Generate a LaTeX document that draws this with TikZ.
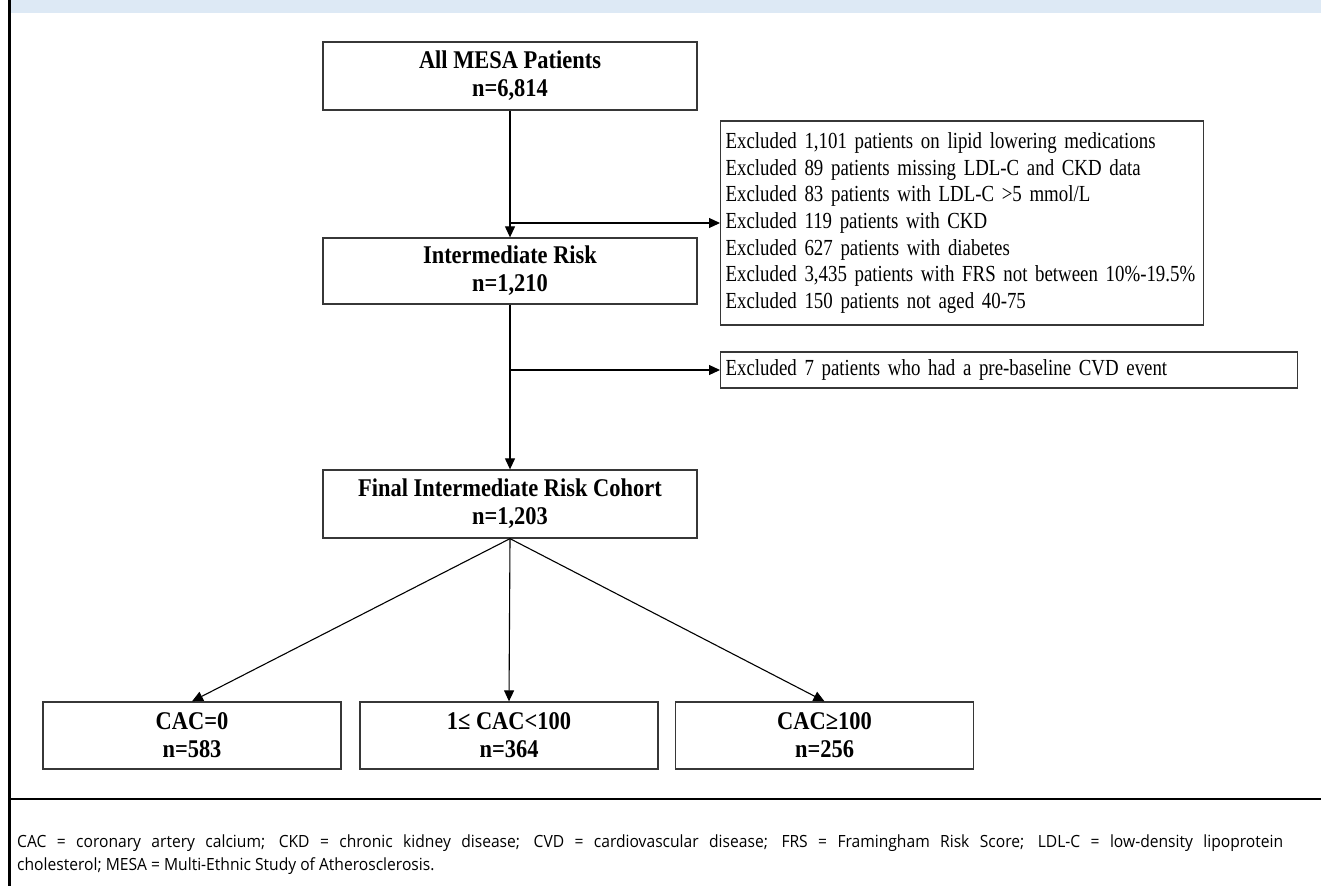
\documentclass[tikz,border=0pt]{standalone}
\usepackage{fontspec}
\setmainfont{Liberation Serif}[FakeStretch=0.88]
\newfontfamily\exfont{Liberation Serif}[FakeStretch=0.82]
\newfontfamily\capfont{Open Sans}[FakeStretch=0.93]
\usetikzlibrary{arrows.meta}
\definecolor{band}{RGB}{221,233,245}
\definecolor{boxline}{RGB}{55,55,55}
\begin{document}
\begin{tikzpicture}[x=1pt,y=-1pt,
  box/.style={draw=boxline, line width=1.3pt, fill=white, inner sep=0pt, align=center,
    font=\fontsize{25.5}{28}\selectfont\bfseries},
  exbox/.style={draw=boxline, line width=1.3pt, fill=white, inner xsep=5pt, inner ysep=0pt,
    align=left, anchor=west, font=\exfont\fontsize{23}{26.7}\selectfont},
  conn/.style={line width=1.1pt, -{Triangle[length=11pt,width=10pt]}},
  rule/.style={line width=2.5pt}]
\useasboundingbox (0,0) rectangle (1321,886);
\fill[band] (10,0) rectangle (1321,13);
\draw[rule] (9.5,0) -- (9.5,886);
\draw[rule] (9.5,799) -- (1321,799);

\node[box, minimum width=374pt, minimum height=68pt] (mesa) at (510,76) {All MESA Patients\\n=6,814};
\node[exbox, minimum height=204pt, text width=473pt] (ex1) at (720,223) {Excluded 1,101 patients on lipid lowering medications\\
Excluded 89 patients missing LDL-C and CKD data\\
Excluded 83 patients with LDL-C >5 mmol/L\\
Excluded 119 patients with CKD\\
Excluded 627 patients with diabetes\\
Excluded 3,435 patients with FRS not between 10\%-19.5\%\\
Excluded 150 patients not aged 40-75};
\node[box, minimum width=374pt, minimum height=66pt] (inter) at (510,271) {Intermediate Risk\\n=1,210};
\node[exbox, minimum height=36pt, text width=567pt] (ex2) at (720,370) {Excluded 7 patients who had a pre-baseline CVD event};
\node[box, minimum width=374pt, minimum height=68pt] (final) at (510,504) {Final Intermediate Risk Cohort\\n=1,203};
\node[box, minimum width=298pt, minimum height=67pt] (c0) at (192,735.5) {CAC=0\\n=583};
\node[box, minimum width=298pt, minimum height=67pt] (c1) at (509,735.5) {1≤ CAC<100\\n=364};
\node[box, minimum width=298pt, minimum height=67pt] (c2) at (824.5,735.5) {CAC≥100\\n=256};

\draw[conn] (mesa.south) -- (inter.north);
\draw[conn] (mesa.south |- ex1.west) -- (ex1.west);
\draw[conn] (inter.south) -- (final.north);
\draw[conn] (inter.south |- ex2.west) -- (ex2.west);
\draw[conn] (final.south) -- (c0.north);
\draw[conn] (final.south) -- (c1.north);
\draw[conn] (final.south) -- (c2.north);

\node[anchor=north west, text width=1266pt, align=justify, inner sep=0pt,
  font=\capfont\fontsize{16.8}{23}\selectfont] (cap) at (17,835)
  {CAC = coronary artery calcium; CKD = chronic kidney disease; CVD = cardiovascular disease; FRS = Framingham Risk Score; LDL-C = low-density lipoprotein\linebreak cholesterol; MESA = Multi-Ethnic Study of Atherosclerosis.};
\end{tikzpicture}
\end{document}
